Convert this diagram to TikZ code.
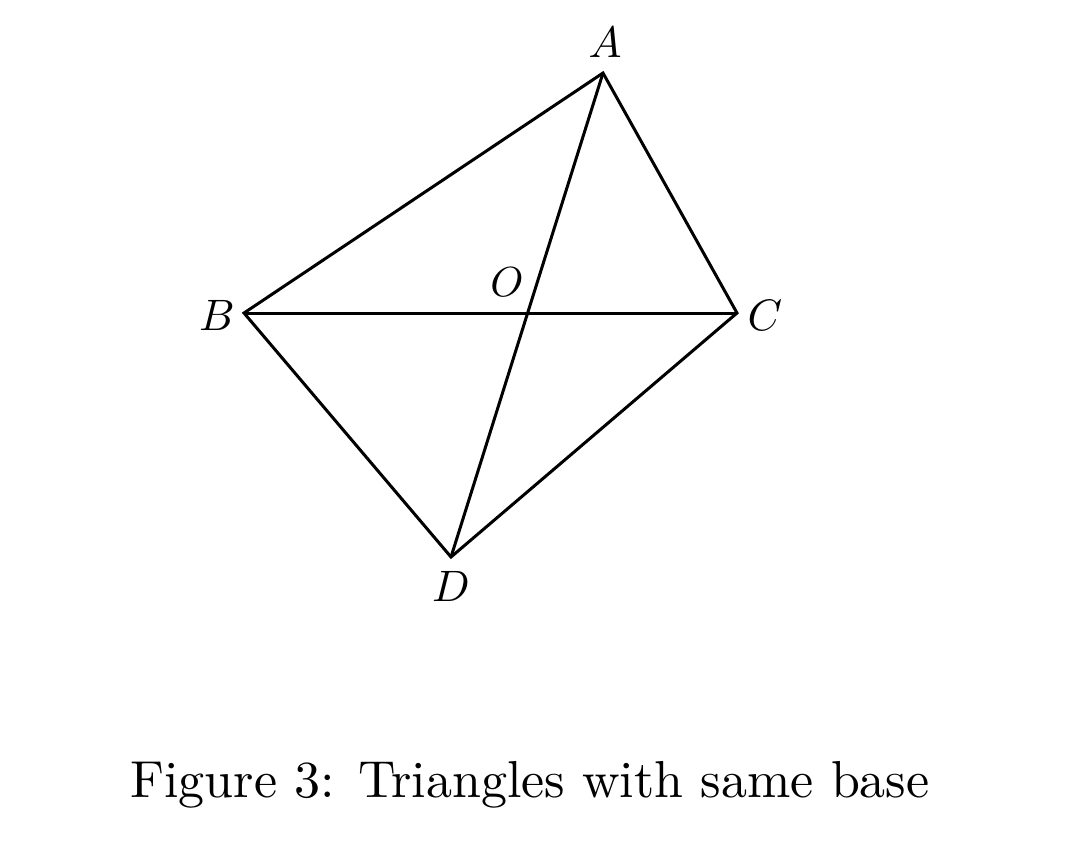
\documentclass[tikz,border=0pt]{standalone}
\usepackage{graphicx}
\begin{document}
\begin{tikzpicture}[x=0.5pt,y=-0.5pt,
  edge/.style={line width=1.5pt, line join=miter},
  lbl/.style={inner sep=0pt}]
\useasboundingbox (0,0) rectangle (1080,852);
\coordinate (A) at (603,73);
\coordinate (B) at (244,313);
\coordinate (C) at (737,313);
\coordinate (D) at (451,557);
\draw[edge] (B) -- (A) -- (C) -- (D) -- cycle;
\draw[edge] (B) -- (C);
\draw[edge] (A) -- (D);
\node[lbl] (la) at (605,42) {\scalebox{2.2}{$A$}};
\node[lbl] (lb) at (217,315) {\scalebox{2.2}{$B$}};
\node[lbl] (lc) at (765,315) {\scalebox{2.2}{$C$}};
\node[lbl] (ld) at (451,586) {\scalebox{2.2}{$D$}};
\node[lbl] (lo) at (507,282) {\scalebox{2.1}{$O$}};
\node[inner sep=0pt] (cap) at (530,785) {\scalebox{2.6}{Figure 3: Triangles with same base}};
\end{tikzpicture}
\end{document}
